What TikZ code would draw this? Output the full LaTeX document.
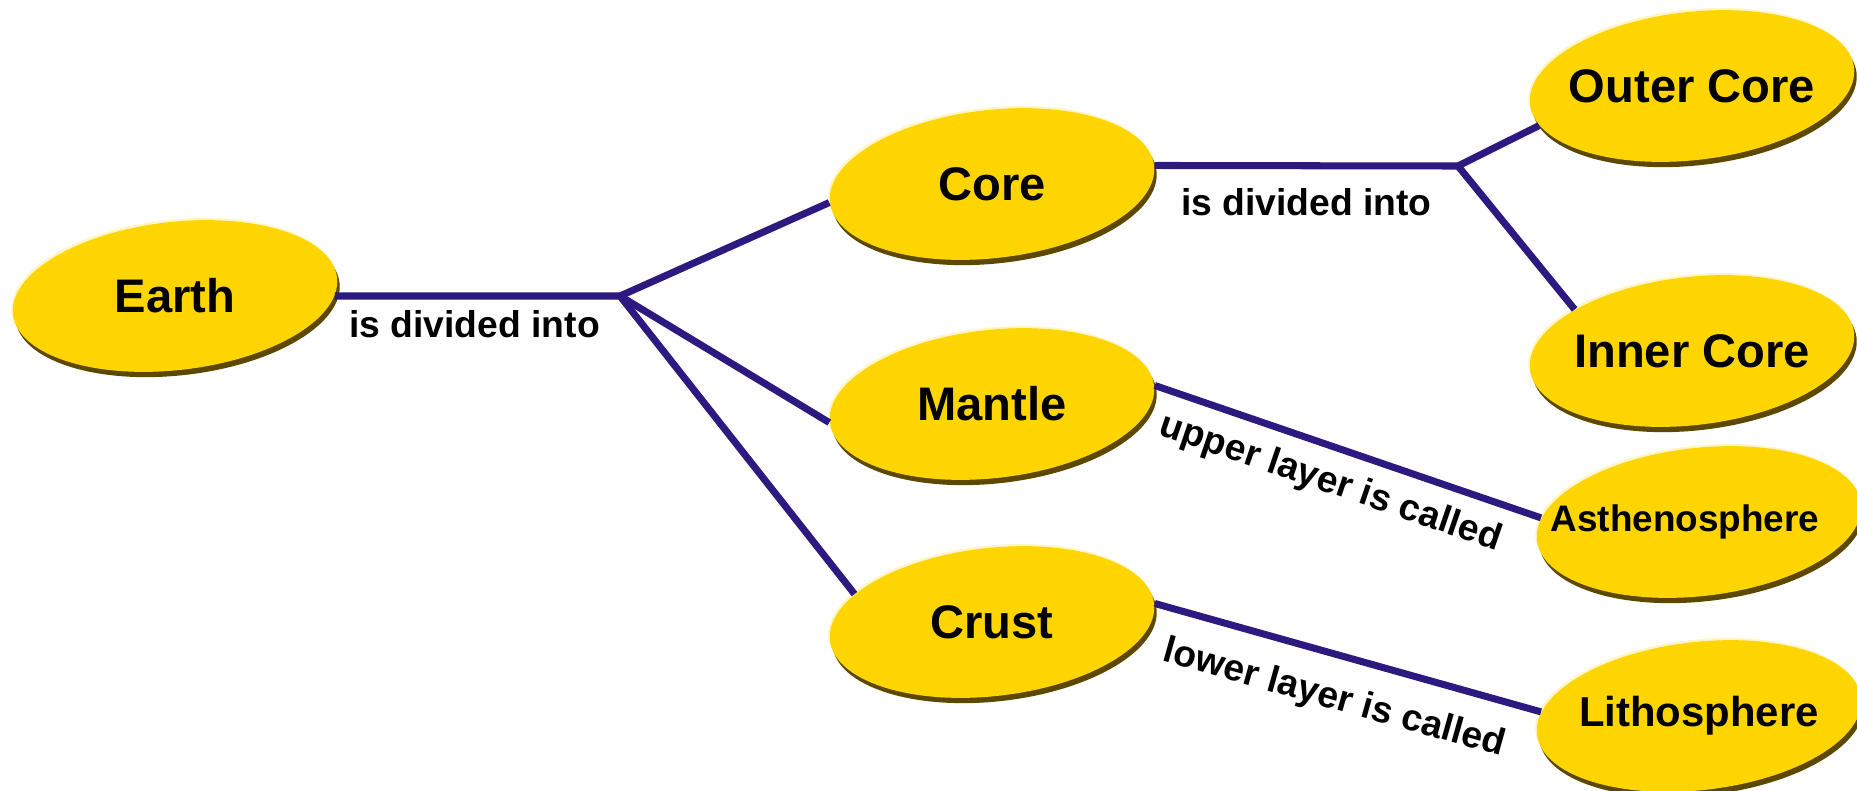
\documentclass[tikz,border=0pt]{standalone}
\usepackage{fontspec}
\setmainfont{Liberation Sans}
\usepackage{xcolor}
\usepackage{tikz}
\usetikzlibrary{positioning, shapes.geometric, shadows}

\definecolor{conceptgold}{RGB}{255,213,0}
\definecolor{rimshadow}{RGB}{92,72,0}
\definecolor{rimlight}{RGB}{255,246,196}
\definecolor{linkblue}{RGB}{44,26,128}

\newcommand{\uprightname}[1]{\rotatebox{-6.5}{\makebox[0pt]{#1}}}

\begin{document}
\begin{tikzpicture}[x = 0.01cm, y = -0.01cm]
            \tikzstyle{concept} = [ellipse, rotate = 6.5, minimum width = 3.26cm, minimum height = 1.48cm, inner sep = 0pt, fill = conceptgold, font = \bfseries\fontsize{13.4}{16}\selectfont, drop shadow = {shadow xshift = -0.4pt, shadow yshift = 0.6pt, fill = rimlight, opacity = 1}, drop shadow = {shadow xshift = 0.7pt, shadow yshift = -1.5pt, fill = rimshadow, opacity = 1}];
            \tikzstyle{link} = [draw = linkblue, line width = 2pt];
            \tikzstyle{linklabel} = [inner sep = 0pt, font = \bfseries\fontsize{10.6}{13}\selectfont];
            \useasboundingbox (0, 0) rectangle (1857, 790);

            \node [concept] (Earth) at (175, 296) {\uprightname{Earth}};

            \node [concept] (Core) at (992, 184) {\uprightname{Core}};
            \node [concept] (Mantle) at (992, 404) {\uprightname{Mantle}};
            \node [concept] (Crust) at (992, 622) {\uprightname{Crust}};

            \node [concept] (Outer) at (1692, 86) {\uprightname{Outer Core}};
            \node [concept] (Inner) at (1692, 351) {\uprightname{Inner Core}};
            \node [concept, font = \bfseries\fontsize{10.5}{13}\selectfont] (Asth) at (1699, 522) {\uprightname{Asthenosphere\kern 8pt}};
            \node [concept, font = \bfseries\fontsize{11.9}{14}\selectfont] (Litho) at (1699, 716) {\uprightname{Lithosphere}};

            \coordinate (J1) at (620, 296);
            \coordinate (J2) at (1458, 166);

            \draw [link] (Earth) to node [linklabel, pos = 0.49, below = 3pt] {is divided into} (J1);
            \draw [link] (J1) to (Core.west);
            \draw [link] (J1) to (Mantle.west);
            \draw [link] (J1) to (Crust.162);
            \draw [link] (Core.east) to node [linklabel, pos = 0.5, below = 5.5pt] {is divided into} (J2);
            \draw [link] (J2) to (Outer.188);
            \draw [link] (J2) to (Inner.154);
            \draw [link] (Mantle.east) to node [linklabel, sloped, pos = 0.485, below = 4.2pt] {upper layer is called} (Asth.172);
            \draw [link] (Crust.east) to node [linklabel, sloped, pos = 0.495, below = 6.5pt] {lower layer is called} (Litho.172);
        \end{tikzpicture}
\end{document}
